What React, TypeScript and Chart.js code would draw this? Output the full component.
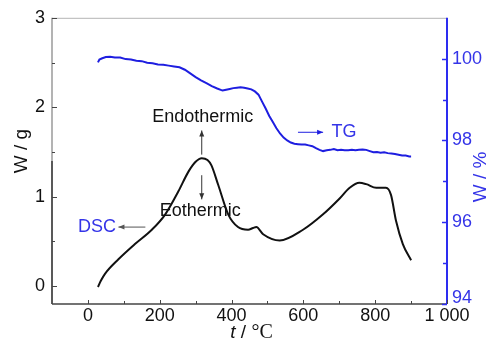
import React, { useEffect, useRef } from "react";
import { Chart, registerables } from "chart.js";

Chart.register(...registerables);

// DSC curve (left axis, W/g)
const dscT = [28, 36, 48, 85, 131, 178, 215, 252, 280, 300, 317, 333, 344, 363, 391, 418, 446, 460, 469, 488, 534, 599, 654, 701, 729, 756, 775, 803, 830, 844, 858, 877, 900];
const dscW = [-0.01, 0.06, 0.14, 0.3, 0.47, 0.63, 0.8, 1.06, 1.28, 1.39, 1.43, 1.41, 1.35, 1.13, 0.8, 0.66, 0.63, 0.65, 0.66, 0.58, 0.51, 0.63, 0.8, 0.98, 1.1, 1.155, 1.14, 1.1, 1.1, 1.02, 0.73, 0.47, 0.29];

// TG curve (right axis, W/%)
const tgT = [28, 32, 40, 50, 62, 75, 90, 105, 120, 135, 150, 165, 180, 195, 210, 225, 240, 255, 270, 285, 300, 315, 330, 345, 360, 375, 385, 395, 405, 415, 425, 435, 445, 455, 465, 475, 485, 495, 505, 515, 525, 535, 545, 555, 565, 575, 585, 595, 605, 615, 625, 635, 645, 655, 665, 675, 685, 695, 705, 715, 725, 735, 745, 755, 765, 775, 785, 795, 805, 815, 825, 835, 845, 855, 865, 875, 885, 895, 900];
const tgW = [99.91, 99.98, 100.01, 100.04, 100.05, 100.03, 100.03, 99.99, 99.98, 99.95, 99.94, 99.9, 99.89, 99.86, 99.85, 99.83, 99.81, 99.79, 99.73, 99.64, 99.55, 99.47, 99.4, 99.33, 99.27, 99.22, 99.24, 99.26, 99.28, 99.29, 99.3, 99.29, 99.27, 99.25, 99.2, 99.12, 98.95, 98.78, 98.6, 98.45, 98.3, 98.17, 98.07, 98.0, 97.95, 97.92, 97.91, 97.9, 97.9, 97.88, 97.86, 97.81, 97.77, 97.74, 97.76, 97.77, 97.79, 97.76, 97.77, 97.76, 97.76, 97.77, 97.76, 97.77, 97.78, 97.77, 97.74, 97.71, 97.72, 97.7, 97.71, 97.69, 97.68, 97.67, 97.65, 97.63, 97.63, 97.61, 97.61];

// Axes ticks
const xMajor = [0, 200, 400, 600, 800, 1000];
const xMinor = [100, 300, 500, 700, 900];
const xLabels = ["0", "200", "400", "600", "800", "1 000"];
const yMajor = [0, 1, 2, 3];
const yMinor = [0.5, 1.5, 2.5];
const y1Major = [94, 96, 98, 100];
const y1Minor = [95, 97, 99];

const SANS = '"Liberation Sans", Arial, sans-serif';
const SERIF = '"Liberation Serif", "Times New Roman", serif';
const BLUE_LINE = "#1e1ee0";
const BLUE_TEXT = "#3434e8";

function arrow(ctx: CanvasRenderingContext2D, x1: number, y1: number, x2: number, y2: number, color: string) {
  ctx.save();
  ctx.strokeStyle = color;
  ctx.fillStyle = color;
  ctx.lineWidth = 1;
  ctx.beginPath();
  ctx.moveTo(x1, y1);
  ctx.lineTo(x2, y2);
  ctx.stroke();
  const a = Math.atan2(y2 - y1, x2 - x1);
  const L = 6, W = 2.5;
  ctx.beginPath();
  ctx.moveTo(x2, y2);
  ctx.lineTo(x2 - L * Math.cos(a) + W * Math.sin(a), y2 - L * Math.sin(a) - W * Math.cos(a));
  ctx.lineTo(x2 - L * Math.cos(a) - W * Math.sin(a), y2 - L * Math.sin(a) + W * Math.cos(a));
  ctx.closePath();
  ctx.fill();
  ctx.restore();
}

const decor = {
  id: "decor",
  afterDraw(chart: any) {
    const ctx: CanvasRenderingContext2D = chart.ctx;
    const { left, right, top, bottom } = chart.chartArea;
    const xs = chart.scales.x, ys = chart.scales.y, y1s = chart.scales.y1;
    ctx.save();
    // frame
    ctx.lineWidth = 1;
    ctx.strokeStyle = "#b4b4b4";
    ctx.beginPath(); ctx.moveTo(left, top + 0.5); ctx.lineTo(right, top + 0.5); ctx.stroke();
    const mid = (top + bottom) / 2;
    ctx.lineWidth = 1.5;
    ctx.strokeStyle = "#9a9a9a";
    ctx.beginPath(); ctx.moveTo(left, top); ctx.lineTo(left, mid); ctx.stroke();
    ctx.strokeStyle = "#222";
    ctx.beginPath(); ctx.moveTo(left, mid); ctx.lineTo(left, bottom); ctx.stroke();
    ctx.strokeStyle = "#444";
    ctx.beginPath(); ctx.moveTo(left, bottom); ctx.lineTo(right, bottom); ctx.stroke();
    ctx.strokeStyle = "#2d2df0";
    ctx.lineWidth = 2;
    ctx.beginPath(); ctx.moveTo(right, top); ctx.lineTo(right, bottom); ctx.stroke();

    // ticks
    ctx.lineWidth = 1;
    ctx.strokeStyle = "#444";
    const xt = (v: number, len: number) => {
      const p = Math.round(xs.getPixelForValue(v)) + 0.5;
      ctx.beginPath(); ctx.moveTo(p, bottom); ctx.lineTo(p, bottom - len); ctx.stroke();
    };
    xMajor.forEach((v) => xt(v, 4));
    xMinor.forEach((v) => xt(v, 3));
    const yt = (v: number, len: number) => {
      const p = Math.round(ys.getPixelForValue(v)) + 0.5;
      ctx.beginPath(); ctx.moveTo(left, p); ctx.lineTo(left + len, p); ctx.stroke();
    };
    yMajor.forEach((v) => yt(v, 5));
    yMinor.forEach((v) => yt(v, 3));
    ctx.strokeStyle = "#2d2df0";
    ctx.lineWidth = 1.5;
    const y1t = (v: number, len: number) => {
      const p = Math.round(y1s.getPixelForValue(v)) + 0.5;
      ctx.beginPath(); ctx.moveTo(right, p); ctx.lineTo(right - len, p); ctx.stroke();
    };
    y1Major.forEach((v) => y1t(v, 5));
    y1Minor.forEach((v) => y1t(v, 4));

    // right tick labels
    ctx.fillStyle = BLUE_TEXT;
    ctx.font = `18px ${SANS}`;
    ctx.textAlign = "left";
    ctx.textBaseline = "middle";
    y1Major.forEach((v) => {
      const p = Math.min(y1s.getPixelForValue(v), bottom - 6);
      ctx.fillText(String(v), right + 5, p);
    });

    // x title: t / °C
    ctx.fillStyle = "#111";
    ctx.textBaseline = "middle";
    ctx.textAlign = "left";
    const f1 = `italic 19px ${SANS}`, f2 = `19px ${SANS}`, f3 = `20px ${SERIF}`;
    const parts: [string, string][] = [["t", f1], [" / ", f2], ["\u00B0C", f3]];
    let tw = 0;
    parts.forEach(([s, f]) => { ctx.font = f; tw += ctx.measureText(s).width; });
    let cx = (left + right) / 2 - tw / 2 + 2;
    const ty = 333;
    parts.forEach(([s, f]) => { ctx.font = f; ctx.fillText(s, cx, ty); cx += ctx.measureText(s).width; });

    // left title
    ctx.save();
    ctx.translate(22, 151);
    ctx.rotate(-Math.PI / 2);
    ctx.textAlign = "center";
    ctx.font = `19px ${SANS}`;
    ctx.fillStyle = "#111";
    ctx.fillText("W / g", 0, 0);
    ctx.restore();

    // right title
    ctx.save();
    ctx.translate(481, 177);
    ctx.rotate(-Math.PI / 2);
    ctx.textAlign = "center";
    ctx.font = `19px ${SANS}`;
    ctx.fillStyle = BLUE_TEXT;
    ctx.fillText("W / %", 0, 0);
    ctx.restore();

    // annotations
    const px = (v: number) => xs.getPixelForValue(v);
    const py = (v: number) => ys.getPixelForValue(v);
    ctx.textAlign = "center";
    ctx.font = `18px ${SANS}`;
    ctx.fillStyle = "#111";
    ctx.fillText("Endothermic", px(320), py(1.89));
    ctx.fillText("Eothermic", px(313), py(0.835));
    arrow(ctx, px(317), py(1.47), px(317), py(1.74), "#333");
    arrow(ctx, px(317), py(1.24), px(317), py(0.97), "#333");
    ctx.fillStyle = BLUE_TEXT;
    ctx.fillText("DSC", px(25), py(0.66));
    arrow(ctx, px(160), py(0.66), px(85), py(0.66), "#555");
    const tgY = y1s.getPixelForValue(98.2);
    ctx.fillText("TG", px(713), tgY);
    arrow(ctx, px(585), tgY, px(655), tgY, BLUE_LINE);
    ctx.restore();
  },
};

export default function App() {
  const ref = useRef<HTMLCanvasElement>(null);
  useEffect(() => {
    document.body.style.margin = "0";
    const canvas = ref.current!;
    const chart = new Chart(canvas, {
      type: "line",
      data: {
        datasets: [
          {
            label: "DSC",
            data: dscT.map((t, i) => ({ x: t, y: dscW[i] })),
            borderColor: "#111",
            borderWidth: 2,
            pointRadius: 0,
            cubicInterpolationMode: "monotone",
            yAxisID: "y",
          },
          {
            label: "TG",
            data: tgT.map((t, i) => ({ x: t, y: tgW[i] })),
            borderColor: BLUE_LINE,
            borderWidth: 2,
            pointRadius: 0,
            tension: 0,
            yAxisID: "y1",
          },
        ],
      },
      options: {
        animation: false,
        responsive: false,
        maintainAspectRatio: false,
        events: [],
        layout: { padding: { top: 13, left: 0, right: 0, bottom: 0 } },
        plugins: { legend: { display: false }, tooltip: { enabled: false }, title: { display: false } },
        scales: {
          x: {
            type: "linear",
            position: "bottom",
            min: -100,
            max: 1000,
            afterBuildTicks: (s: any) => { s.ticks = xMajor.map((v) => ({ value: v })); },
            afterFit: (s: any) => { s.height = 37; },
            grid: { display: false, drawTicks: false },
            border: { display: false },
            ticks: {
              padding: 1,
              maxRotation: 0,
              autoSkip: false,
              color: "#111",
              font: { size: 18, family: SANS },
              callback: (v: any) => xLabels[xMajor.indexOf(Number(v))] ?? "",
            },
          },
          y: {
            type: "linear",
            position: "left",
            min: -0.2,
            max: 3,
            afterBuildTicks: (s: any) => { s.ticks = yMajor.map((v) => ({ value: v })); },
            afterFit: (s: any) => { s.width = 52; },
            grid: { display: false, drawTicks: false },
            border: { display: false },
            ticks: {
              padding: 7,
              color: "#111",
              font: { size: 18, family: SANS },
              callback: (v: any) => String(v),
            },
          },
          y1: {
            type: "linear",
            position: "right",
            min: 94,
            max: 101,
            afterFit: (s: any) => { s.width = 48; },
            grid: { display: false, drawTicks: false },
            border: { display: false },
            ticks: { display: false },
          },
        },
      },
      plugins: [decor],
    });
    return () => chart.destroy();
  }, []);
  return (
    <div style={{ width: 495, height: 341, background: "#fff" }}>
      <canvas ref={ref} width={495} height={341} style={{ display: "block" }} />
    </div>
  );
}
